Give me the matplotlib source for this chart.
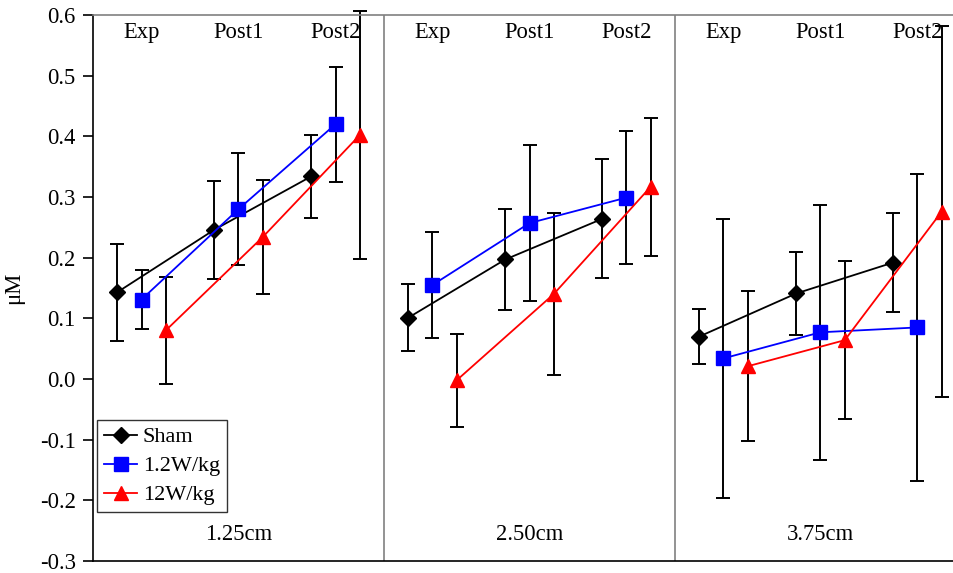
import matplotlib
matplotlib.use("Agg")
import matplotlib.pyplot as plt
from matplotlib.lines import Line2D

plt.rcParams['font.family'] = ['Liberation Serif', 'DejaVu Serif']

distances = ["1.25cm", "2.50cm", "3.75cm"]
timepoints = ["Exp", "Post1", "Post2"]
series_names = ["Sham", "1.2W/kg", "12W/kg"]

# values per panel (distance) -> timepoints
sham_vals = [[0.143, 0.246, 0.334], [0.101, 0.197, 0.264], [0.070, 0.141, 0.192]]
sham_err = [[0.080, 0.081, 0.069], [0.055, 0.083, 0.098], [0.046, 0.068, 0.081]]
w12_vals = [[0.131, 0.280, 0.420], [0.155, 0.257, 0.299], [0.034, 0.077, 0.085]]
w12_err = [[0.048, 0.092, 0.095], [0.087, 0.128, 0.110], [0.230, 0.210, 0.253]]
w120_vals = [[0.080, 0.234, 0.402], [-0.002, 0.140, 0.317], [0.021, 0.064, 0.276]]
w120_err = [[0.088, 0.094, 0.204], [0.077, 0.134, 0.114], [0.124, 0.130, 0.306]]

yticks = [-0.3, -0.2, -0.1, 0.0, 0.1, 0.2, 0.3, 0.4, 0.5, 0.6]

series = [
    (sham_vals, sham_err, "black", "D", 8),
    (w12_vals, w12_err, "#0000FF", "s", 9.5),
    (w120_vals, w120_err, "#FF0000", "^", 10),
]

FS = 16.3

fig = plt.figure(figsize=(9.54, 5.73), dpi=100)
ax = fig.add_axes([93/954, 12/573, 873/954, 546/573])

for si, (vals, errs, col, mk, ms) in enumerate(series):
    for p in range(3):
        xs = [12*p + 4*g + 1 + si for g in range(3)]
        eb = ax.errorbar(xs, vals[p], yerr=errs[p], fmt='none', ecolor='black',
                         elinewidth=1.4, capsize=5, capthick=1.4, zorder=2)
        for art in eb.lines[1] + eb.lines[2]:
            art.set_clip_on(False)
        ax.plot(xs, vals[p], color=col, lw=1.3, marker=mk, ms=ms,
                markerfacecolor=col, markeredgecolor=col, zorder=3)

ax.set_xlim(0, 36)
ax.set_ylim(-0.3, 0.6)
ax.set_yticks(yticks)
ax.set_yticklabels([f"{t:.1f}" for t in yticks], fontsize=FS)
ax.set_xticks([])
ax.tick_params(axis='y', direction='out', length=7, width=1.2, pad=5.5)
ax.set_ylabel("μM", fontsize=FS)
ax.yaxis.set_label_coords(-0.079, 0.5)

for p in (1, 2):
    ax.axvline(12*p, color='#808080', lw=1.2, zorder=1)

ax.spines['top'].set_color('#808080')
ax.spines['top'].set_linewidth(1.2)
ax.spines['right'].set_visible(False)
ax.spines['left'].set_linewidth(1.2)
ax.spines['bottom'].set_linewidth(1.2)

for p in range(3):
    for g, tp in enumerate(timepoints):
        ax.text(12*p + 4*g + 2, 0.571, tp, ha='center', va='center', fontsize=FS)
    ax.text(12*p + 6, -0.257, distances[p], ha='center', va='center', fontsize=FS)

handles = [Line2D([], [], color=c, marker=m, ms=s, lw=1.3,
                  markerfacecolor=c, markeredgecolor=c)
           for (_, _, c, m, s) in series]
leg = ax.legend(handles, series_names, loc='upper left', bbox_to_anchor=(0.005, 0.258),
                borderaxespad=0, fontsize=16, frameon=True, fancybox=False,
                handlelength=1.5, handletextpad=0.25, labelspacing=0.38,
                borderpad=0.3)
leg.get_frame().set_edgecolor('black')
leg.get_frame().set_linewidth(1.0)

fig.savefig("out.png", dpi=100)
